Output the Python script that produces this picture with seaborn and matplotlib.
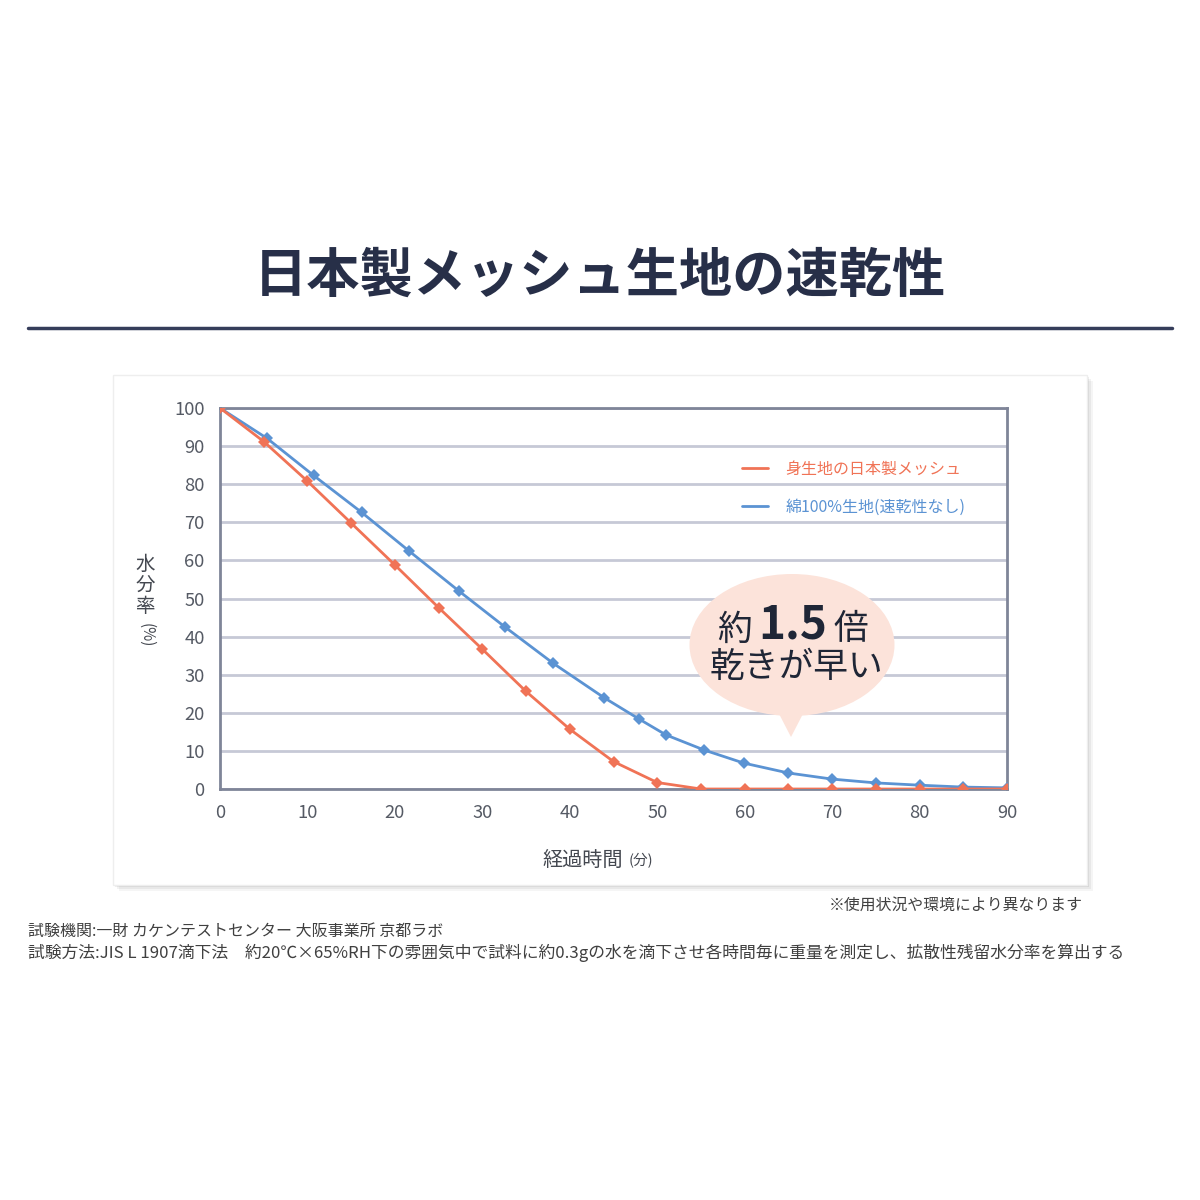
import matplotlib
matplotlib.use("Agg")
import matplotlib.pyplot as plt
import seaborn as sns
from matplotlib.patches import Ellipse, Polygon, FancyBboxPatch
from matplotlib.lines import Line2D

# data
time_mesh = [0, 5, 10, 15, 20, 25, 30, 35, 40, 45, 50, 55, 60, 65, 70, 75, 80, 85, 90]
moist_mesh = [100, 91.2, 80.8, 69.8, 58.8, 47.6, 36.7, 25.6, 15.7, 7.2, 1.7, 0, 0, 0, 0, 0, 0, 0, 0]
time_cotton = [0, 5.4, 10.7, 16.2, 21.6, 27.3, 32.6, 38.1, 43.9, 47.9, 51.0, 55.4, 59.9, 65, 70, 75, 80, 85, 90]
moist_cotton = [100, 92.0, 82.3, 72.6, 62.5, 52.0, 42.5, 33.0, 24.0, 18.4, 14.2, 10.2, 6.8, 4.2, 2.6, 1.6, 1.0, 0.5, 0.3]
x_ticks = [0, 10, 20, 30, 40, 50, 60, 70, 80, 90]
y_ticks = [0, 10, 20, 30, 40, 50, 60, 70, 80, 90, 100]
labels = ["身生地の日本製メッシュ", "綿100%生地(速乾性なし)"]

orange = "#f07356"
blue = "#5b93d3"
navy = "#272f48"

sns.set_theme(style="white")
plt.rcParams["font.family"] = ["Noto Sans CJK JP", "DejaVu Sans"]

fig = plt.figure(figsize=(12, 12), dpi=100)
fig.patch.set_facecolor("white")


def fx(px):
    return px / 1200


def fy(py):
    return 1 - py / 1200


# title and rule
fig.text(0.5, fy(276), "日本製メッシュ生地の速乾性", ha="center", va="center",
         fontsize=38.3, fontweight="bold", color=navy)
fig.add_artist(Line2D([fx(28), fx(1172)], [fy(328), fy(328)], color="#353d5a", lw=2.5))

# chart panel with soft shadow (behind the axes)
for off, a in [(6, 0.04), (4, 0.05), (2, 0.07)]:
    fig.add_artist(FancyBboxPatch((fx(113) + off / 1200, fy(885) - off / 1200), fx(974), 510 / 1200,
                                  boxstyle="square,pad=0", fc="#000000", ec="none", alpha=a,
                                  zorder=-3))
fig.add_artist(FancyBboxPatch((fx(113), fy(885)), fx(974), 510 / 1200,
                              boxstyle="square,pad=0", fc="white", ec="#eeeeee", lw=1, zorder=-2))

ax = fig.add_axes([fx(220), fy(789), 787 / 1200, 381 / 1200])
ax.set_facecolor("white")

sns.lineplot(x=time_mesh, y=moist_mesh, ax=ax, color=orange, lw=2, marker="D",
             markersize=6, markeredgewidth=0, zorder=5)
sns.lineplot(x=time_cotton, y=moist_cotton, ax=ax, color=blue, lw=2, marker="D",
             markersize=6, markeredgewidth=0, zorder=4)

ax.set_xlim(0, 90)
ax.set_ylim(0, 100)
ax.set_xticks(x_ticks)
ax.set_yticks(y_ticks)
ax.yaxis.grid(True, color="#c6c9d6", lw=2)
ax.xaxis.grid(False)
ax.set_axisbelow(True)
for s in ax.spines.values():
    s.set_visible(True)
    s.set_color("#7f8598")
    s.set_linewidth(2)
ax.tick_params(axis="both", labelsize=13.2, labelcolor="#555a64", length=0, pad=11)
ax.tick_params(axis="x", direction="in", length=4, color="#7f8598", width=1.5, pad=11)
ax.set_xlabel("")
ax.set_ylabel("")

# axis titles
fig.text(fx(145), fy(585), "水\n分\n率", ha="center", va="center", fontsize=14,
         color="#444850", linespacing=1.0)
fig.text(fx(146), fy(635), "(%)", ha="center", va="center", fontsize=11,
         color="#444850", rotation=-90)
fig.text(fx(583), fy(860), "経過時間", ha="center", va="center", fontsize=14.5, color="#444850")
fig.text(fx(641), fy(861), "(分)", ha="center", va="center", fontsize=10.5, color="#444850")

# legend
handles = [Line2D([], [], color=orange, lw=2), Line2D([], [], color=blue, lw=2)]
leg = ax.legend(handles, labels, loc="upper left", bbox_to_anchor=(fx(728), fy(446)),
                bbox_transform=fig.transFigure, frameon=False, fontsize=11.5,
                handlelength=1.6, handletextpad=1.1, labelspacing=1.35, labelcolor="linecolor")
leg.set_zorder(6)

# speech bubble
bubble_c = "#fce3da"
fig.add_artist(Ellipse((fx(792), fy(645)), 205 / 1200, 142 / 1200, fc=bubble_c, ec="none", zorder=3))
fig.add_artist(Polygon([(fx(776), fy(708)), (fx(806), fy(708)), (fx(791), fy(737))],
                       closed=True, fc=bubble_c, ec="none", zorder=3))
fig.text(fx(735), fy(630), "約", ha="center", va="center", fontsize=25, color="#1f2636", zorder=4)
fig.text(fx(793), fy(626), "1.5", ha="center", va="center", fontsize=33, fontweight="bold",
         color="#1f2636", zorder=4)
fig.text(fx(851), fy(630), "倍", ha="center", va="center", fontsize=25, color="#1f2636", zorder=4)
fig.text(fx(796), fy(668), "乾きが早い", ha="center", va="center", fontsize=25,
         color="#1f2636", zorder=4)

# notes
fig.text(fx(1083), fy(905), "※使用状況や環境により異なります", ha="right", va="center",
         fontsize=11.4, color="#404040")
fig.text(fx(28), fy(931), "試験機関:一財 カケンテストセンター 大阪事業所 京都ラボ", ha="left",
         va="center", fontsize=11.5, color="#404040")
fig.text(fx(28), fy(953),
         "試験方法:JIS L 1907滴下法　約20℃×65%RH下の雰囲気中で試料に約0.3gの水を滴下させ各時間毎に重量を測定し、拡散性残留水分率を算出する",
         ha="left", va="center", fontsize=12.1, color="#404040")

fig.savefig("out.png", dpi=100, facecolor="white")
